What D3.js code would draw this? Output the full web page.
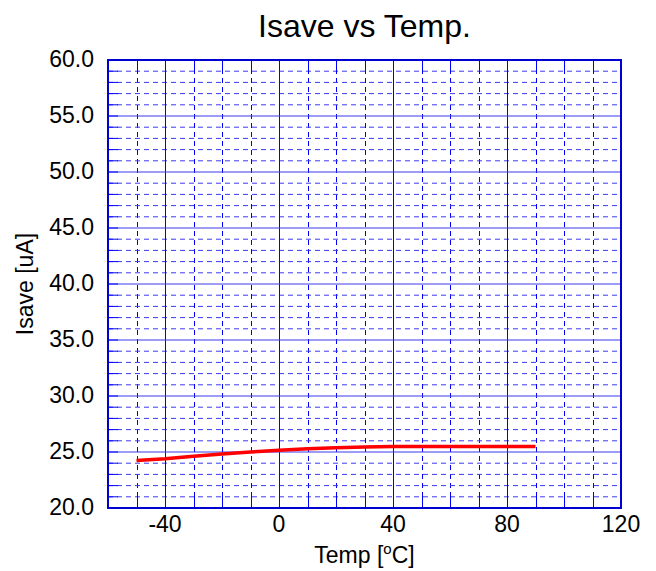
<!DOCTYPE html>
<html>
<head>
<meta charset="utf-8">
<script src="https://cdn.jsdelivr.net/npm/d3@7"></script>
<style>
  body { margin: 0; background: #fff; }
  svg { display: block; font-family: "Liberation Sans", Arial, sans-serif; }
</style>
</head>
<body>
<svg width="656" height="571"></svg>
<script>
// data
const temps = [-50, -40, -30, -20, -10, 0, 10, 20, 30, 40, 50, 60, 70, 80, 90];
const isave = [24.25, 24.4, 24.62, 24.82, 25.0, 25.15, 25.28, 25.38, 25.45, 25.5, 25.5, 25.5, 25.5, 25.5, 25.5];
const xTicks = [-40, 0, 40, 80, 120];
const yTicks = [20, 25, 30, 35, 40, 45, 50, 55, 60];

const svg = d3.select('svg');
const margin = { left: 108, top: 60, right: 35, bottom: 63 };
const width = 656 - margin.left - margin.right;
const height = 571 - margin.top - margin.bottom;

const x = d3.scaleLinear().domain([-60, 120]).range([0, width]);
const y = d3.scaleLinear().domain([20, 60]).range([height, 0]);

const g = svg.append('g').attr('transform', `translate(${margin.left},${margin.top})`);
const blue = '#0000ff';
const px = v => Math.round(x(v)) + 0.5;

// minor grid (dashed)
const xMinor = d3.range(-50, 120, 10).filter(v => v % 40 !== 0);
const yMinor = d3.range(21, 60, 1).filter(v => v % 5 !== 0);
g.selectAll('.vminor').data(xMinor).join('line')
  .attr('x1', px).attr('x2', px)
  .attr('y1', 0).attr('y2', height)
  .attr('stroke', blue).attr('stroke-dasharray', '5,4');
g.selectAll('.hminor').data(yMinor).join('line')
  .attr('y1', d => y(d)).attr('y2', d => y(d))
  .attr('x1', 0).attr('x2', width)
  .attr('stroke', '#3a3af0').attr('stroke-dasharray', '5,4');

// major grid (solid)
g.selectAll('.vmajor').data([-40, 0, 40, 80]).join('line')
  .attr('x1', px).attr('x2', px)
  .attr('y1', 0).attr('y2', height)
  .attr('stroke', blue);
g.selectAll('.hmajor').data(yTicks.slice(1, -1)).join('line')
  .attr('y1', d => y(d)).attr('y2', d => y(d))
  .attr('x1', 0).attr('x2', width)
  .attr('stroke', '#3a3af0');

// inward ticks on the bottom, top and left
const xAll = d3.range(-50, 120, 10);
g.selectAll('.xtick').data(xAll).join('line')
  .attr('x1', px).attr('x2', px)
  .attr('y1', height).attr('y2', height - 12)
  .attr('stroke', blue);
g.selectAll('.xtickTop').data(xAll).join('line')
  .attr('x1', px).attr('x2', px)
  .attr('y1', 0).attr('y2', 12)
  .attr('stroke', blue);
g.selectAll('.ytick').data(d3.range(21, 60, 1)).join('line')
  .attr('y1', d => y(d)).attr('y2', d => y(d))
  .attr('x1', 0).attr('x2', 10)
  .attr('stroke', blue);

// frame
g.append('rect').attr('width', width).attr('height', height)
  .attr('fill', 'none').attr('stroke', '#0000d0').attr('stroke-width', 2);

// data line
const line = d3.line().x((d, i) => x(temps[i])).y(d => y(d));
g.append('path').datum(isave)
  .attr('d', line)
  .attr('fill', 'none').attr('stroke', '#ff0000').attr('stroke-width', 3.5);

// tick labels
g.selectAll('.xlab').data(xTicks).join('text')
  .attr('x', d => x(d)).attr('y', height + 24)
  .attr('text-anchor', 'middle').attr('font-size', 23).attr('fill', '#000')
  .text(d => d);
g.selectAll('.ylab').data(yTicks).join('text')
  .attr('x', -14).attr('y', d => y(d) + 7)
  .attr('text-anchor', 'end').attr('font-size', 23).attr('fill', '#000')
  .text(d => d.toFixed(1));

// titles
svg.append('text').attr('x', margin.left + width / 2).attr('y', 37)
  .attr('text-anchor', 'middle').attr('font-size', 32).text('Isave vs Temp.');

const xt = svg.append('text').attr('x', margin.left + width / 2).attr('y', 563)
  .attr('text-anchor', 'middle').attr('font-size', 23);
xt.append('tspan').text('Temp [');
xt.append('tspan').attr('font-size', 15).attr('dy', -9).text('o');
xt.append('tspan').attr('dy', 9).text('C]');

svg.append('text')
  .attr('transform', `translate(33,${margin.top + height / 2}) rotate(-90)`)
  .attr('text-anchor', 'middle').attr('font-size', 23).text('Isave [uA]');
</script>
</body>
</html>
